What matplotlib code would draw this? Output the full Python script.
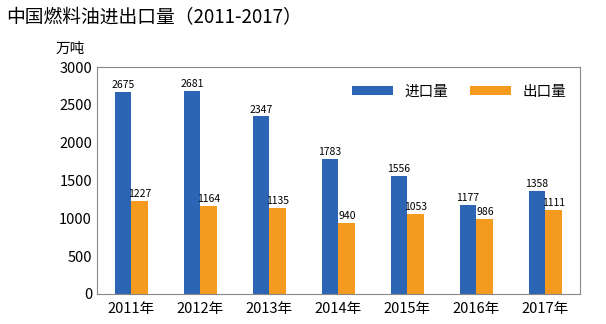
import numpy as np
import matplotlib.pyplot as plt

plt.rcParams['font.family'] = ['Noto Sans CJK SC', 'DejaVu Sans']

years = ['2011年', '2012年', '2013年', '2014年', '2015年', '2016年', '2017年']
imports = [2675, 2681, 2347, 1783, 1556, 1177, 1358]
exports = [1227, 1164, 1135, 940, 1053, 986, 1111]

blue = '#2b65b3'
orange = '#f39a1f'

fig = plt.figure(figsize=(6.06, 3.24), dpi=100)
ax = fig.add_axes([0.160, 0.093, 0.797, 0.700])

x = np.arange(len(years))
w = 0.245
b1 = ax.bar(x - w / 2, imports, w, color=blue, label='进口量')
b2 = ax.bar(x + w / 2, exports, w, color=orange, label='出口量')

for bars, vals in ((b1, imports), (b2, exports)):
    for r, v in zip(bars, vals):
        ax.text(r.get_x() + r.get_width() / 2, v + 25, str(v),
                ha='center', va='bottom', fontsize=7.5)

ax.set_xlim(-0.5, 6.5)
ax.set_ylim(0, 3000)
ax.set_yticks(range(0, 3001, 500))
ax.set_xticks(x)
ax.set_xticklabels(years)
ax.tick_params(axis='both', length=0, labelsize=10.5)
ax.tick_params(axis='x', pad=6)
for s in ax.spines.values():
    s.set_color('#888888')

ax.legend(loc='upper right', ncol=2, frameon=False, fontsize=10.5,
          handlelength=2.8, handleheight=0.6, columnspacing=1.5,
          bbox_to_anchor=(1.0, 0.98))

fig.text(0.01, 0.945, '中国燃料油进出口量（2011-2017）', fontsize=13.5, va='center')
fig.text(0.14, 0.85, '万吨', fontsize=10.5, ha='right', va='center')

fig.savefig('out.png', dpi=100)
